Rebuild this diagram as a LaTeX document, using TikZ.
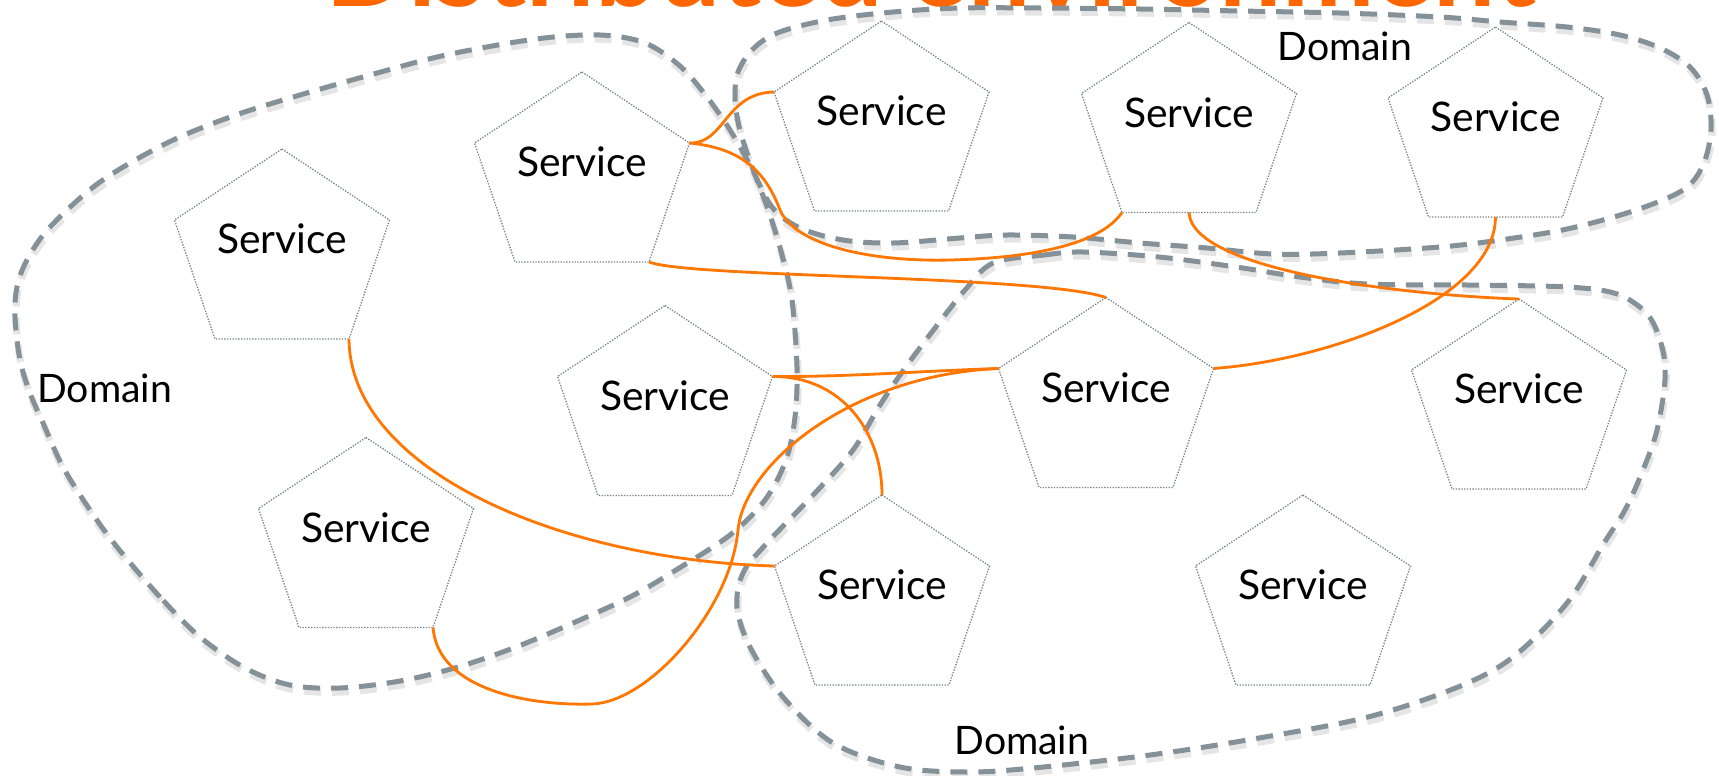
\documentclass[tikz,border=0pt]{standalone}
\usepackage{fontspec}
\setmainfont{Lato}
\usepackage{graphicx}
\usetikzlibrary{calc}
\definecolor{domgray}{RGB}{133,145,153}
\definecolor{lineorange}{RGB}{255,118,0}
\definecolor{titleorange}{RGB}{255,102,0}
\definecolor{pentgray}{RGB}{120,128,135}
\tikzset{
  domline/.style={draw=domgray, line width=2.5pt, dash pattern=on 8.5pt off 5.5pt},
  domshadow/.style={draw=black, opacity=0.10, line width=3.6pt, dash pattern=on 8.5pt off 5.5pt},
  pentline/.style={draw=pentgray, line width=0.65pt, dash pattern=on 0.65pt off 0.75pt},
  svc/.style={inner sep=0pt, font=\fontsize{20.4}{24}\selectfont, anchor=base},
  domlabel/.style={inner sep=0pt, font=\fontsize{19.6}{24}\selectfont, anchor=base west},
  conn/.style={draw=lineorange, line width=1.4pt},
}
\newcommand{\svcpent}[3]{%
  \path (#2,#3) coordinate (#1-t) +(-107.5,71) coordinate (#1-l) +(107.5,71) coordinate (#1-r)
    +(-67,190) coordinate (#1-bl) +(67,190) coordinate (#1-br) +(0,190) coordinate (#1-b);
  \draw[pentline] (#1-t) -- (#1-r) -- (#1-br) -- (#1-bl) -- (#1-l) -- cycle;
  \node[svc] (#1) at (#2,#3+104.5) {Service};
}
\def\domApath{plot[smooth cycle, tension=0.55] coordinates {
(200,637) (160,597) (117,547) (90,510) (63,467) (43,423) (30,393) (20,360) (15,317) (17,287) (27,260) (50,227) (100,182) (167,143) (233,116) (300,95) (370,75) (446,55) (536,39) (600,35) (645,43) (680,66) (707,97) (730,130) (750,165) (772,207) (800,228) (843,240) (893,243) (960,238) (1007,235) (1073,237) (1140,243) (1207,248) (1273,254) (1340,253) (1440,247) (1500,240) (1567,229) (1633,211) (1683,190) (1703,165) (1711,130) (1707,95) (1690,67) (1660,48) (1620,35) (1567,27) (1500,22) (1440,17) (1340,13) (1240,11) (1140,9) (1040,8) (960,8) (893,12) (827,20) (777,33) (752,50) (738,72) (735,95) (738,122) (746,150) (757,180) (770,215) (782,255) (792,300) (797,367) (795,417) (786,460) (765,500) (730,535) (676,570) (630,597) (573,623) (516,647) (458,667) (400,681) (340,688) (290,685) (245,668)}}
\def\domBpath{plot[smooth cycle, tension=0.55] coordinates {
(993,263) (1044,255) (1083,252) (1159,257) (1236,267) (1300,277) (1367,284) (1467,285) (1567,287) (1617,294) (1648,315) (1662,347) (1665,380) (1657,430) (1643,470) (1625,510) (1604,543) (1567,603) (1513,657) (1458,687) (1368,717) (1259,738) (1150,755) (1033,768) (967,772) (900,767) (833,743) (783,697) (750,647) (737,607) (743,573) (767,543) (815,493) (853,450) (880,405) (905,368) (935,328) (965,290)}}
\begin{document}
\begin{tikzpicture}[x=0.5pt,y=-0.5pt]
  \clip (0,0) rectangle (1719,776);
  \fill[white] (0,0) rectangle (1719,776);
  % title (cut off at the top)
  \node[anchor=base west, inner sep=0pt, text=titleorange] (title) at (325,6)
    {\resizebox{605pt}{!}{\bfseries Distributed environment}};
  % domains
  \draw[domshadow, shift={(1,4)}] \domApath;
  \draw[domshadow, shift={(1,4)}] \domBpath;
  \draw[domline] \domApath;
  \draw[domline] \domBpath;
  \node[domlabel] (dleft) at (37,402) {Domain};
  \node[domlabel] (dtop) at (1277,61) {Domain};
  \node[domlabel] (dbottom) at (954,754) {Domain};
  % services
  \svcpent{A}{282}{149}
  \svcpent{B}{582}{72}
  \svcpent{C}{366}{437.5}
  \svcpent{D}{665}{305.5}
  \svcpent{E}{881.5}{21}
  \svcpent{F}{1189}{22.5}
  \svcpent{G}{1495.5}{27}
  \svcpent{H}{1106}{297.5}
  \svcpent{I}{1519}{299}
  \svcpent{J}{882}{495}
  \svcpent{K}{1303}{495}
  % connectors
  \draw[conn] (B-r) .. controls (725,144) and (725,93) .. (E-l);
  \draw[conn] (B-r) .. controls (740,148) and (765,170) .. (780,210)
    .. controls (795,245) and (870,262) .. (950,260)
    .. controls (1030,258) and (1100,245) .. (F-bl);
  \draw[conn] (B-br) .. controls (690,278) and (1040,275) .. (H-t);
  \draw[conn] (A-br) .. controls (350,470) and (560,560) .. (J-l);
  \draw[conn] (C-br) .. controls (438,690) and (530,706) .. (592,704)
    .. controls (650,702) and (731,608) .. (738,530)
    .. controls (744,465) and (850,375) .. (H-l);
  \draw[conn] (D-r) .. controls (850,377) and (920,371) .. (H-l);
  \draw[conn] (D-r) .. controls (840,376) and (882,430) .. (J-t);
  \draw[conn] (F-b) .. controls (1192,270) and (1400,295) .. (I-t);
  \draw[conn] (G-b) .. controls (1495,300) and (1330,360) .. (H-r);
\end{tikzpicture}
\end{document}
